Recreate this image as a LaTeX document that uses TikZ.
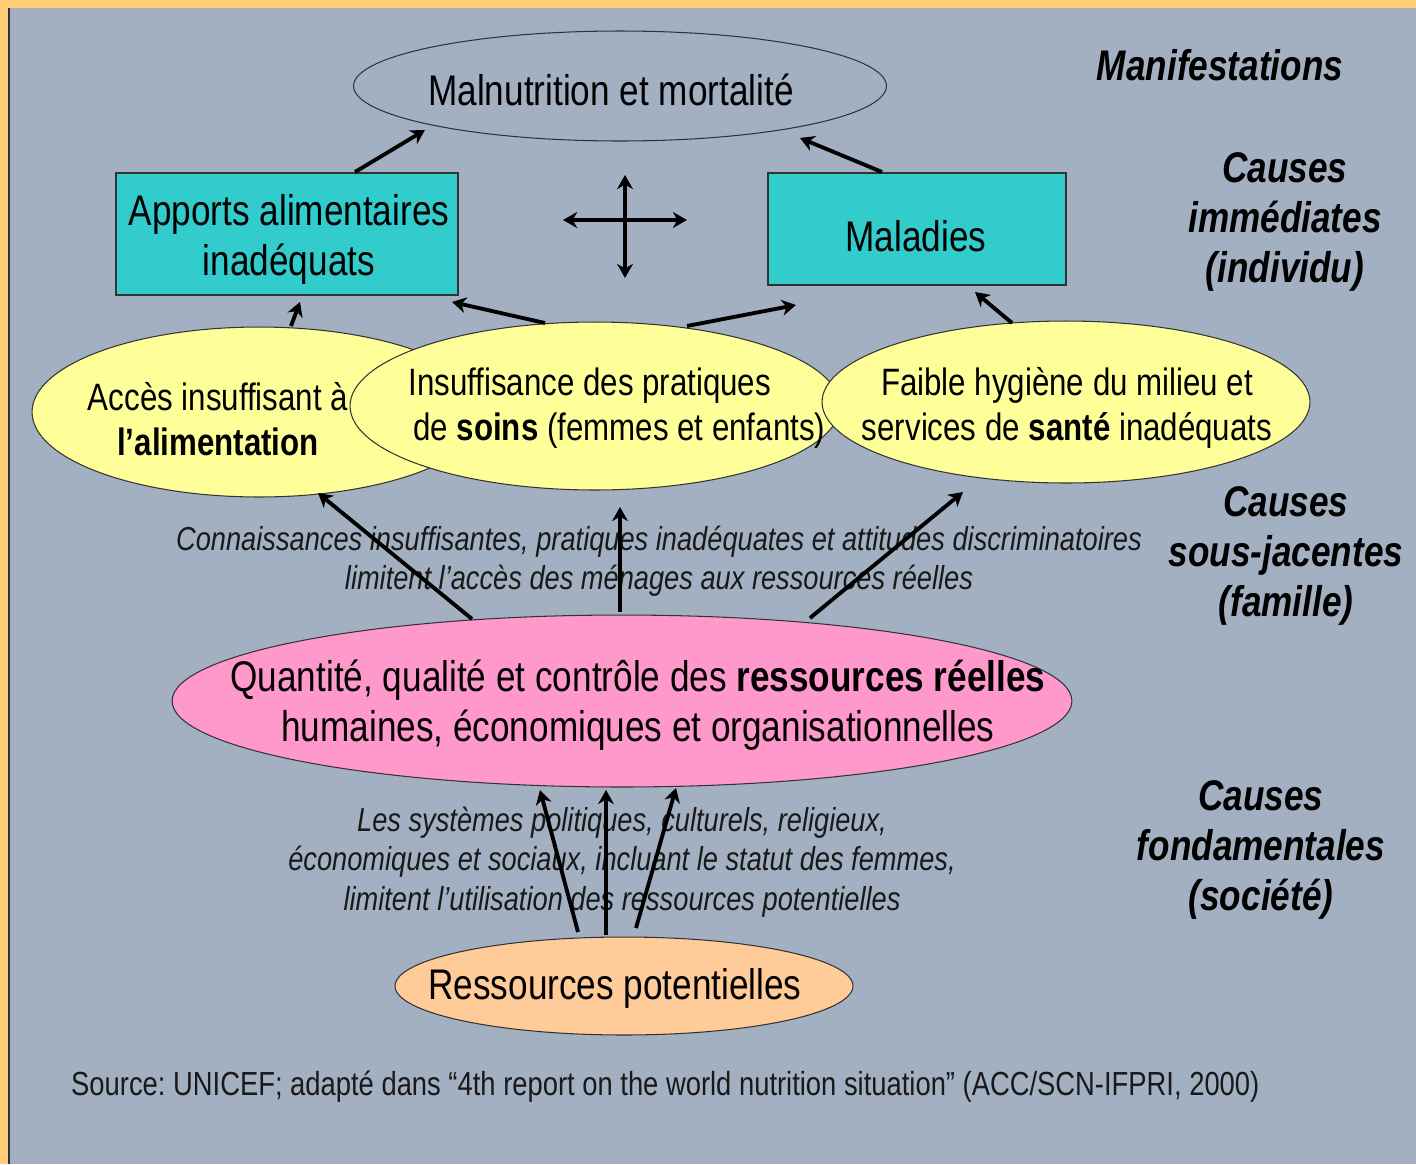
\documentclass[tikz,border=0pt]{standalone}
\usepackage{fontspec}
\setmainfont{Liberation Sans}[FakeStretch=0.82]
\usetikzlibrary{shapes.geometric,arrows.meta,calc}
\definecolor{slideBg}{HTML}{A3B0C1}
\definecolor{slideFrame}{HTML}{FFCC77}
\definecolor{causeFill}{HTML}{33CCCC}
\definecolor{familyFill}{HTML}{FFFF99}
\definecolor{resFill}{HTML}{FF99CC}
\definecolor{potFill}{HTML}{FFCC99}
\definecolor{edgeDark}{HTML}{333333}

\begin{document}
\frenchspacing
\begin{tikzpicture}[x=0.02cm, y=-0.02cm,
          >={Stealth[length=8pt, width=9pt, inset=2.5pt]},
          oval/.style={ellipse, draw=edgeDark, line width=0.6pt, inner sep=0pt},
          box/.style={rectangle, draw=edgeDark, fill=causeFill, line width=0.8pt, inner sep=0pt},
          bigtext/.style={font=\fontsize{24.4}{28.4}\selectfont, align=center, inner sep=0pt},
          midtext/.style={font=\fontsize{21.7}{25.3}\selectfont, align=center, inner sep=0pt},
          note/.style={font=\fontsize{18.9}{22.4}\selectfont\itshape, align=center, text=black!90},
          level/.style={font=\fontsize{24.4}{28.4}\selectfont\bfseries\itshape, align=center},
          flow/.style={->, line width=2.2pt, draw=black}
        ]
          % slide background
          \useasboundingbox (0,0) rectangle (1416,1164);
          \fill[slideFrame] (0,0) rectangle (1416,1164);
          \fill[slideBg] (9,8) rectangle (1416,1164);
          \draw[edgeDark, line width=0.8pt] (9,8) -- (9,1164);

          % manifestations and immediate causes
          \node[oval, fill=slideBg, minimum width=10.66cm, minimum height=2.2cm] (malnut) at (620,86) {};
          \node[bigtext] (malnuttxt) at (611,90) {Malnutrition et mortalit\'e};
          \node[box, minimum width=6.84cm, minimum height=2.44cm] (apports) at (287,234) {};
          \node[bigtext] (apportstxt) at (289,239) {Apports alimentaires\\inad\'equats};
          \node[box, minimum width=5.96cm, minimum height=2.24cm] (maladies) at (917,229) {};
          \node[bigtext] (maladiestxt) at (916,236) {Maladies};
          \coordinate (cross) at (625,220);

          % underlying causes
          \node[oval, fill=familyFill, minimum width=9.08cm, minimum height=3.4cm] (acces) at (259,412) {};
          \node[midtext] (accestxt) at (218,419) {Acc\`es insuffisant \`a\\\textbf{l’alimentation}};
          \node[oval, fill=familyFill, minimum width=9.8cm, minimum height=3.36cm] (soins) at (595,406) {};
          \node[midtext, align=left, anchor=west] (soinstxt) at (408,408) {Insuffisance des pratiques\\\hspace{0.1cm}de \textbf{soins} (femmes et enfants)};
          \node[oval, fill=familyFill, minimum width=9.76cm, minimum height=3.24cm] (hygiene) at (1066,402) {};
          \node[midtext] (hygienetxt) at (1067,408) {Faible hygi\`ene du milieu et\\services de \textbf{sant\'e} inad\'equats};

          % resources
          \node[oval, fill=resFill, minimum width=18cm, minimum height=3.44cm] (reelles) at (622,701) {};
          \node[bigtext] (reellestxt) at (638,705) {Quantit\'e, qualit\'e et contr\^ole des \textbf{ressources r\'eelles}\\humaines, \'economiques et organisationnelles};
          \node[oval, fill=potFill, minimum width=9.16cm, minimum height=1.96cm] (potent) at (624,986) {};
          \node[bigtext] (potenttxt) at (615,988) {Ressources potentielles};

          % level labels
          \node[level] (lvlman) at (1220,65) {Manifestations};
          \node[level] (lvlimm) at (1285,222) {Causes\\imm\'ediates\\(individu)};
          \node[level] (lvlsous) at (1286,556) {Causes\\sous-jacentes\\(famille)};
          \node[level] (lvlfond) at (1261,850) {Causes\\fondamentales\\(soci\'et\'e)};

          % notes
          \node[note] (notefam) at (659,561) {Connaissances insuffisantes, pratiques inad\'equates et attitudes discriminatoires\\limitent l’acc\`es des m\'enages aux ressources r\'eelles};
          \node[note] (notesoc) at (622,862) {Les syst\`emes politiques, culturels, religieux,\\\'economiques et sociaux, incluant le statut des femmes,\\limitent l’utilisation des ressources potentielles};
          \node[note, font=\fontsize{19}{22.4}\selectfont, anchor=west] (source) at (65,1087) {Source: UNICEF; adapt\'e dans “4th report on the world nutrition situation” (ACC/SCN-IFPRI, 2000)};

          % arrows
          \draw[flow] ($(apports.center)+(68,-62)$) -- ($(malnut.center)+(-195,44)$);
          \draw[flow] ($(maladies.center)+(-35,-57)$) -- ($(malnut.center)+(180,52)$);
          \draw[<->, line width=2.2pt] ($(cross)+(-62,0)$) -- ($(cross)+(62,0)$);
          \draw[<->, line width=2.2pt] ($(cross)+(0,-45)$) -- ($(cross)+(0,58)$);
          \draw[flow] ($(acces.center)+(32,-86)$) -- ($(apports.center)+(13,68)$);
          \draw[flow] ($(soins.center)+(-50,-83)$) -- ($(apports.center)+(165,68)$);
          \draw[flow] ($(soins.center)+(92,-80)$) -- ($(maladies.center)+(-121,76)$);
          \draw[flow] ($(hygiene.center)+(-54,-79)$) -- ($(maladies.center)+(58,63)$);
          \draw[flow] ($(reelles.center)+(-150,-82)$) -- ($(acces.center)+(59,81)$);
          \draw[flow] ($(reelles.center)+(-2,-89)$) -- ($(soins.center)+(25,101)$);
          \draw[flow] ($(reelles.center)+(188,-83)$) -- ($(hygiene.center)+(-103,90)$);
          \draw[flow] ($(potent.center)+(-46,-54)$) -- ($(reelles.center)+(-82,89)$);
          \draw[flow] ($(potent.center)+(-18,-51)$) -- ($(reelles.center)+(-16,89)$);
          \draw[flow] ($(potent.center)+(12,-58)$) -- ($(reelles.center)+(54,87)$);
        \end{tikzpicture}
\end{document}
